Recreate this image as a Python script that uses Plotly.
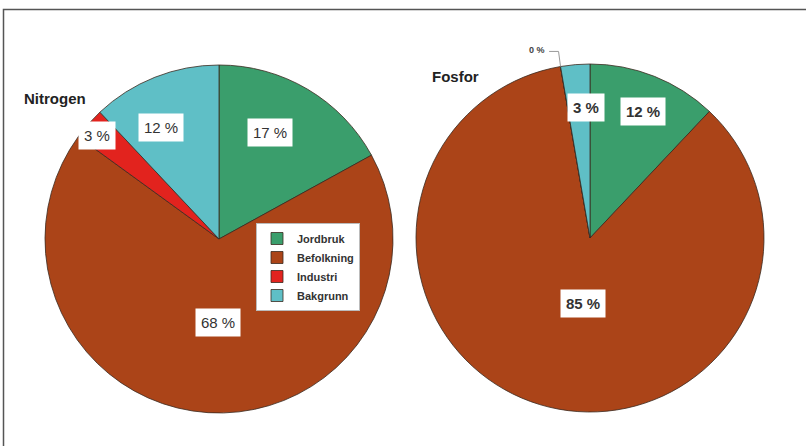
import math
import plotly.graph_objects as go

W, H = 806, 446

labels = ["Jordbruk", "Befolkning", "Industri", "Bakgrunn"]
colors = ["#3a9e6c", "#ab4418", "#e2231e", "#5fbfc6"]
nitrogen_values = [17, 68, 3, 12]
fosfor_values = [12, 85, 0, 2.7]
titles = ["Nitrogen", "Fosfor"]

# label placement (radius fraction, angle offset in degrees) per slice
n_label_r = [0.68, 0.48, 0.92, 0.72]
n_label_off = [-5, -3, -1, -6]
f_label_r = [0.79, 0.38, 1.12, 0.75]
f_label_off = [1, -11, -6, 3]

# pie geometry (pixels)
centers = [(219, 239), (590, 238)]
R = 174


def px(x):
    return x / W


def py(y):
    return 1 - y / H


fig = go.Figure()
for i, (vals, (cx, cy)) in enumerate(zip([nitrogen_values, fosfor_values], centers)):
    fig.add_trace(go.Pie(
        labels=labels, values=vals, sort=False, direction="clockwise", rotation=0,
        marker=dict(colors=colors, line=dict(color="#3a2a20", width=0.8)),
        textinfo="none", hoverinfo="label+percent",
        domain=dict(x=[px(cx - R), px(cx + R)], y=[py(cy + R), py(cy - R)]),
        legend="legend" if i == 0 else "legend2",
        showlegend=True,
    ))

annotations = []
shapes = []
for i, (vals, (cx, cy), rfr, offs) in enumerate(zip(
        [nitrogen_values, fosfor_values], centers,
        [n_label_r, f_label_r], [n_label_off, f_label_off])):
    total = sum(vals)
    cum = 0
    for j, v in enumerate(vals):
        start = cum / total * 360
        cum += v
        end = cum / total * 360
        mid = (start + end) / 2 + offs[j]
        r = rfr[j] * R
        x = cx + r * math.sin(math.radians(mid))
        y = cy - r * math.cos(math.radians(mid))
        pct = round(v / total * 100)
        txt = f"{pct} %"
        if rfr[j] > 1:
            # outside label with leader line
            annotations.append(dict(x=px(x), y=py(y), xref="paper", yref="paper",
                                    xanchor="center", yanchor="middle",
                                    text=f"<b>{txt}</b>", showarrow=False,
                                    font=dict(family="Liberation Sans, Arial", size=9, color="#444")))
            ex = cx + R * math.sin(math.radians((start + end) / 2))
            ey = cy - R * math.cos(math.radians((start + end) / 2))
            path = f"M {px(x + 12)} {py(y + 1)} L {px(ex - 2)} {py(y + 1)} L {px(ex)} {py(ey)}"
            shapes.append(dict(type="path", xref="paper", yref="paper", path=path,
                               line=dict(color="#999", width=1)))
        else:
            bold = i == 1
            annotations.append(dict(
                x=px(x), y=py(y), xref="paper", yref="paper",
                xanchor="center", yanchor="middle",
                text=f"<b>{txt}</b>" if bold else txt, showarrow=False,
                bgcolor="white", borderpad=5,
                font=dict(family="Liberation Sans, Arial", size=15, color="#333")))

# titles
annotations.append(dict(x=px(22), y=py(99), xref="paper", yref="paper",
                        xanchor="left", yanchor="middle",
                        text="<b>Nitrogen</b>", showarrow=False,
                        font=dict(family="Liberation Sans, Arial", size=15, color="#222")))
annotations.append(dict(x=px(430), y=py(76), xref="paper", yref="paper",
                        xanchor="left", yanchor="middle",
                        text="<b>Fosfor</b>", showarrow=False,
                        font=dict(family="Liberation Sans, Arial", size=15, color="#222")))

# outer frame
shapes.append(dict(type="rect", xref="paper", yref="paper",
                   x0=px(3.5), y0=-0.05, x1=1.05, y1=py(9.5),
                   line=dict(color="#555", width=1.5)))

legend_style = dict(bgcolor="white", bordercolor="#bbb", borderwidth=1,
                    font=dict(family="Liberation Sans, Arial", size=11, color="#333", weight="bold"),
                    xanchor="left", yanchor="top", itemwidth=30, tracegroupgap=0)

fig.update_layout(
    width=W, height=H, margin=dict(l=0, r=0, t=0, b=0),
    paper_bgcolor="white", plot_bgcolor="white",
    annotations=annotations, shapes=shapes,
    legend=dict(x=px(256), y=py(223), **legend_style),
    legend2=dict(x=px(615), y=py(217), **legend_style),
)

fig.write_html("out.html")
